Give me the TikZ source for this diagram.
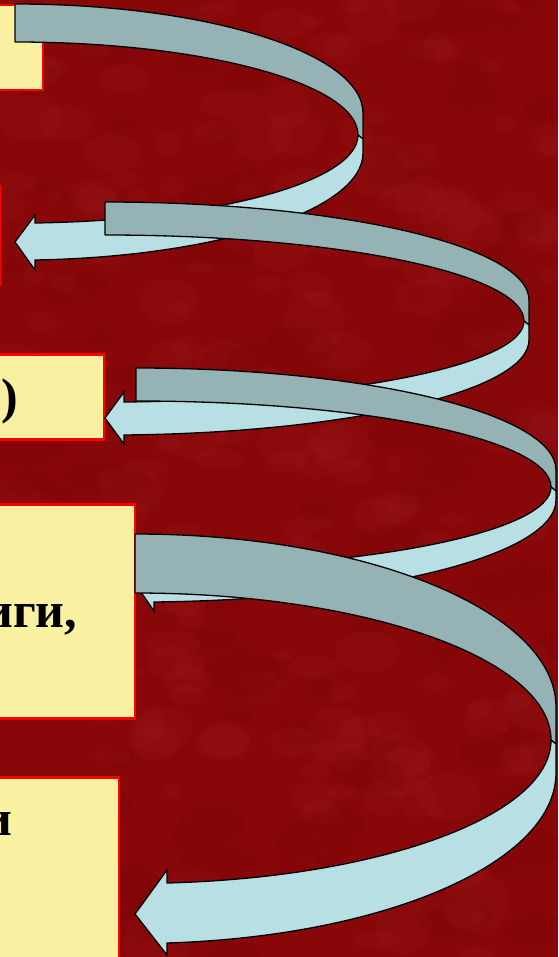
\documentclass[tikz,border=0pt]{standalone}
\usepackage{fontspec}
\setmainfont{Liberation Serif}
\definecolor{bgred}{RGB}{136,8,10}
\definecolor{bglite}{RGB}{160,28,32}
\definecolor{bgdark}{RGB}{122,2,4}
\definecolor{boxfill}{RGB}{250,240,162}
\definecolor{boxline}{RGB}{255,0,0}
\definecolor{backcol}{RGB}{149,178,180}
\definecolor{frontcol}{RGB}{184,223,227}
\tikzset{
  panel/.style={draw=boxline, line width=2.5pt, fill=boxfill, rectangle, inner sep=0pt, anchor=north east},
  txt/.style={inner sep=0pt, anchor=base east, font=\bfseries\fontsize{50}{60}\selectfont},
  backband/.style={draw=black, line width=1.3pt, fill=backcol, line join=round},
  frontband/.style={draw=black, line width=1.3pt, fill=frontcol, line join=miter}
}
\pgfkeys{/hx/.cd,
  xL/.store in=\hxL, yo/.store in=\hxyo, yi/.store in=\hxyi,
  xR/.store in=\hxR, yRa/.store in=\hxyRa, yRb/.store in=\hxyRb,
  xF/.store in=\hxF, yF/.store in=\hxyF, xh/.store in=\hxh,
  yst/.store in=\hxyst, ysb/.store in=\hxysb, yba/.store in=\hxyba,
  ybb/.store in=\hxybb, yt/.store in=\hxyt}
\newcommand\helixarrow[1]{%
  \pgfkeys{/hx/.cd,#1}%
  \pgfmathsetmacro\hxrxo{\hxR-\hxL}%
  \pgfmathsetmacro\hxrxi{\hxF-\hxL}%
  \pgfmathsetmacro\hxryou{\hxyRa-\hxyo}%
  \pgfmathsetmacro\hxryiu{\hxyF-\hxyi}%
  \pgfmathsetmacro\hxTo{-acos((\hxh-\hxL)/\hxrxo)}%
  \pgfmathsetmacro\hxTi{-acos((\hxh-\hxL)/\hxrxi)}%
  \pgfmathsetmacro\hxryol{(\hxysb-\hxyRb)/sin(-\hxTo)}%
  \pgfmathsetmacro\hxryil{(\hxyst-\hxyF)/sin(-\hxTi)}%
  \pgfmathsetmacro\hxyfold{\hxyF+4}%
  \draw[backband] (\hxL,-\hxyo)
     arc[start angle=90, end angle=0, x radius=\hxrxo, y radius=\hxryou]
     -- (\hxR,-\hxyfold) -- (\hxF,-\hxyF)
     arc[start angle=0, end angle=90, x radius=\hxrxi, y radius=\hxryiu]
     -- cycle;
  \draw[frontband] (\hxF,-\hxyF) -- (\hxR,-\hxyfold) -- (\hxR,-\hxyRb)
     arc[start angle=0, end angle=\hxTo, x radius=\hxrxo, y radius=\hxryol]
     -- (\hxh,-\hxybb) -- (\hxL,-\hxyt) -- (\hxh,-\hxyba) -- (\hxh,-\hxyst)
     arc[start angle=\hxTi, end angle=0, x radius=\hxrxi, y radius=\hxryil]
     -- cycle;
}
\begin{document}
\begin{tikzpicture}[x=1pt, y=1pt]
  \useasboundingbox (0,0) rectangle (558,-957);
  \clip (0,0) rectangle (558,-957);
  \fill[bgred] (0,0) rectangle (558,-957);
  \pgfmathsetseed{11}
  \foreach \i in {1,...,220}{
    \pgfmathsetmacro\bx{rnd*558}
    \pgfmathsetmacro\by{rnd*957}
    \pgfmathsetmacro\br{8+rnd*26}
    \pgfmathsetmacro\bq{0.4+rnd*0.6}
    \fill[bglite, opacity=0.16] (\bx,-\by) ellipse[x radius=\br, y radius=\bq*\br];
  }
  \foreach \i in {1,...,120}{
    \pgfmathsetmacro\bx{rnd*558}
    \pgfmathsetmacro\by{rnd*957}
    \pgfmathsetmacro\br{10+rnd*30}
    \fill[bgdark, opacity=0.18] (\bx,-\by) ellipse[x radius=\br, y radius=0.6*\br];
  }
  % boxes (cut off by the left edge)
  \node[panel, minimum width=300pt, minimum height=85pt] (box1) at (44,-4) {};
  \node[panel, minimum width=300pt, minimum height=98pt] (box2) at (1,-185) {};
  \node[panel, minimum width=300pt, minimum height=85pt] (box3) at (105,-353) {};
  \node[panel, minimum width=300pt, minimum height=214pt] (box4) at (136,-503) {};
  \node[panel, minimum width=300pt, minimum height=300pt] (box5) at (120,-776) {};
  % texts
  \node[txt] (t3) at (18.5,-413) {в)};
  \node[txt] (t4) at (77.5,-627) {книги,};
  \node[txt] (t5) at (13,-835) {и};
  % spiral arrows
  \helixarrow{xL=15, yo=4, yi=42, xR=363, yRa=113, yRb=153, xF=358, yF=135,
    xh=35, yst=223, ysb=260, yba=215, ybb=270, yt=242}
  \helixarrow{xL=105, yo=202, yi=235, xR=529, yRa=300, yRb=340, xF=524, yF=321,
    xh=124, yst=402, ysb=435, yba=392, ybb=444, yt=418}
  \helixarrow{xL=136, yo=368, yi=401, xR=556, yRa=470, yRb=500, xF=551, yF=487,
    xh=154, yst=569, ysb=602, yba=559, ybb=611, yt=585}
  \helixarrow{xL=135, yo=534, yi=593, xR=556, yRa=707, yRb=773, xF=551, yF=740,
    xh=167, yst=883, ysb=943, yba=870, ybb=955, yt=914}
\end{tikzpicture}
\end{document}
